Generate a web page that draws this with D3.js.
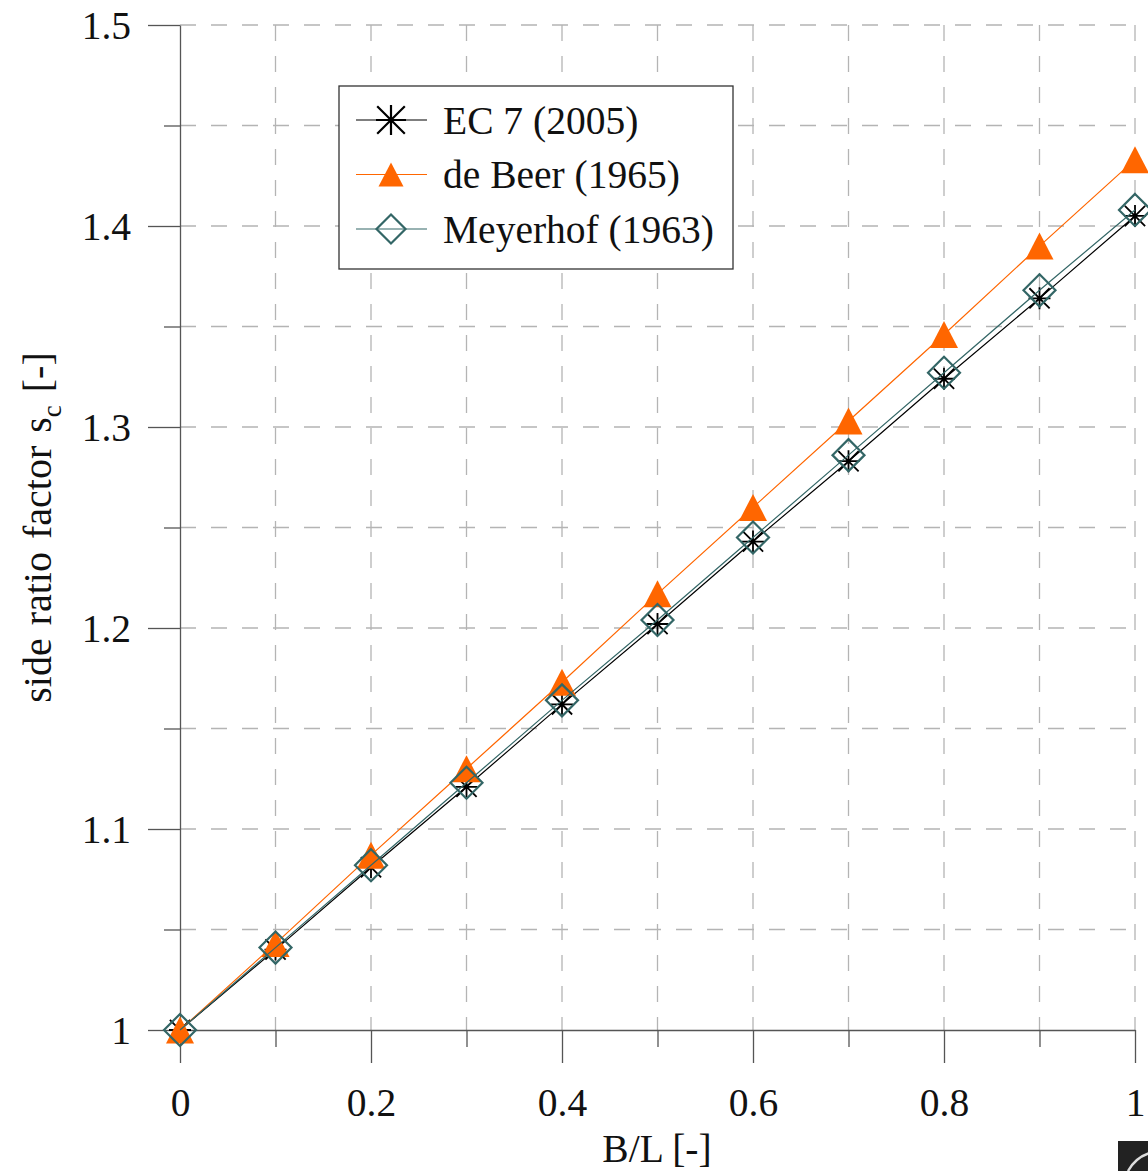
<!DOCTYPE html>
<html>
<head>
<meta charset="utf-8">
<script src="https://cdn.jsdelivr.net/npm/d3@7"></script>
<style>
  html, body { margin: 0; padding: 0; background: #fff; }
  svg { display: block; }
</style>
</head>
<body>
<div id="chart"></div>
<script>
// data
const ratios = [0, 0.1, 0.2, 0.3, 0.4, 0.5, 0.6, 0.7, 0.8, 0.9, 1.0];
const ec7 = [1.000, 1.040, 1.081, 1.121, 1.162, 1.202, 1.243, 1.283, 1.324, 1.364, 1.405];
const deBeer = [1.000, 1.043, 1.087, 1.130, 1.173, 1.217, 1.260, 1.303, 1.346, 1.390, 1.433];
const meyerhof = [1.000, 1.041, 1.082, 1.123, 1.164, 1.204, 1.245, 1.286, 1.327, 1.368, 1.408];

const seriesNames = ['EC 7 (2005)', 'de Beer (1965)', 'Meyerhof (1963)'];

const xMajorTicks = [0, 0.2, 0.4, 0.6, 0.8, 1];
const xMinorTicks = [0.1, 0.3, 0.5, 0.7, 0.9];
const yMajorTicks = [1, 1.1, 1.2, 1.3, 1.4, 1.5];
const yMinorTicks = [1.05, 1.15, 1.25, 1.35, 1.45];
const xGrid = [0.1, 0.2, 0.3, 0.4, 0.5, 0.6, 0.7, 0.8, 0.9, 1.0];
const yGrid = [1.05, 1.1, 1.15, 1.2, 1.25, 1.3, 1.35, 1.4, 1.45, 1.5];

const width = 1148, height = 1171;
const fontSize = 39.5;
const serif = "'Liberation Serif', 'Times New Roman', serif";

const svg = d3.select('#chart').append('svg')
    .attr('width', width)
    .attr('height', height);

const x = d3.scaleLinear().domain([0, 1]).range([180, 1135]);
const y = d3.scaleLinear().domain([1, 1.5]).range([1030, 25]);

// grid
const grid = svg.append('g')
    .attr('stroke', '#b4b4b4')
    .attr('stroke-width', 1.3)
    .attr('stroke-dasharray', '16,15');

grid.selectAll('line.gx').data(xGrid).enter().append('line')
    .attr('x1', d => x(d)).attr('x2', d => x(d))
    .attr('y1', y(1.5)).attr('y2', y(1));

grid.selectAll('line.gy').data(yGrid).enter().append('line')
    .attr('x1', x(0)).attr('x2', x(1))
    .attr('y1', d => y(d)).attr('y2', d => y(d));

// axes
function styleAxis(g) {
    g.selectAll('.domain').attr('stroke', '#555').attr('stroke-width', 1.3);
    g.selectAll('.tick line').attr('stroke', '#555').attr('stroke-width', 1.3);
    g.selectAll('text')
        .style('font-family', serif)
        .style('font-size', fontSize + 'px')
        .attr('fill', '#111');
}

const xAxisG = svg.append('g')
    .attr('transform', `translate(0,${y(1)})`)
    .call(d3.axisBottom(x).tickValues(xMajorTicks).tickSize(33).tickSizeOuter(0)
        .tickFormat(d => d === 0 || d === 1 ? d3.format('d')(d) : d3.format('.1f')(d)));
xAxisG.call(styleAxis);
xAxisG.selectAll('text').attr('y', 86).attr('dy', 0);

const xMinorG = svg.append('g')
    .attr('transform', `translate(0,${y(1)})`)
    .call(d3.axisBottom(x).tickValues(xMinorTicks).tickSize(17).tickFormat(''));
xMinorG.select('.domain').remove();
xMinorG.call(styleAxis);

const yAxisG = svg.append('g')
    .attr('transform', `translate(${x(0)},0)`)
    .call(d3.axisLeft(y).tickValues(yMajorTicks).tickSize(32).tickSizeOuter(0)
        .tickFormat(d => d === 1 ? '1' : d3.format('.1f')(d)));
yAxisG.call(styleAxis);
yAxisG.selectAll('text').attr('x', -49).attr('dy', '0.33em');

const yMinorG = svg.append('g')
    .attr('transform', `translate(${x(0)},0)`)
    .call(d3.axisLeft(y).tickValues(yMinorTicks).tickSize(16).tickFormat(''));
yMinorG.select('.domain').remove();
yMinorG.call(styleAxis);

// axis titles
svg.append('text')
    .attr('x', 657).attr('y', 1162)
    .attr('text-anchor', 'middle')
    .style('font-family', serif)
    .style('font-size', fontSize + 'px')
    .attr('fill', '#111')
    .text('B/L [-]');

const yTitle = svg.append('text')
    .attr('transform', `translate(51,${(y(1) + y(1.5)) / 2}) rotate(-90)`)
    .attr('text-anchor', 'middle')
    .style('font-family', serif)
    .style('font-size', '40px')
    .style('word-spacing', '3px')
    .attr('fill', '#111');
yTitle.append('tspan').text('side ratio factor s');
yTitle.append('tspan').style('font-size', '27px').attr('dy', 10).text('c');
yTitle.append('tspan').attr('dy', -10).text(' [-]');

// markers
function starPath(r) {
    const d = r * 0.92;
    return `M0,${-r}L0,${r}M${-r},0L${r},0M${-d},${-d}L${d},${d}M${-d},${d}L${d},${-d}`;
}
function trianglePath(w, h) {
    return `M0,${-h / 2}L${w / 2},${h / 2}L${-w / 2},${h / 2}Z`;
}
function diamondPath(r) {
    return `M0,${-r}L${r},0L0,${r}L${-r},0Z`;
}

const series = [
    { name: seriesNames[0], values: ec7, color: '#000000', marker: 'star' },
    { name: seriesNames[1], values: deBeer, color: '#ff6600', marker: 'triangle' },
    { name: seriesNames[2], values: meyerhof, color: '#336666', marker: 'diamond' }
];

function drawMarker(g, s, big) {
    if (s.marker === 'star') {
        g.append('path').attr('d', starPath(big ? 15 : 11))
            .attr('stroke', s.color).attr('stroke-width', big ? 2.2 : 1.8).attr('fill', 'none');
    } else if (s.marker === 'triangle') {
        g.append('path').attr('d', big ? trianglePath(25, 24) : trianglePath(28, 27))
            .attr('fill', s.color).attr('stroke', 'none');
    } else {
        g.append('path').attr('d', diamondPath(big ? 14.5 : 16))
            .attr('fill', 'none').attr('stroke', s.color).attr('stroke-width', 2.2);
    }
}

const line = d3.line()
    .x((d, i) => x(ratios[i]))
    .y(d => y(d));

series.forEach(s => {
    const g = svg.append('g');
    g.append('path')
        .datum(s.values)
        .attr('d', line)
        .attr('fill', 'none')
        .attr('stroke', s.color)
        .attr('stroke-width', 1.2);
    s.values.forEach((v, i) => {
        const m = g.append('g').attr('transform', `translate(${x(ratios[i])},${y(v)})`);
        drawMarker(m, s, false);
    });
});

// legend
const legend = svg.append('g').attr('transform', 'translate(339,86)');
legend.append('rect')
    .attr('width', 394).attr('height', 183)
    .attr('fill', '#fff').attr('stroke', '#333').attr('stroke-width', 1.3);

series.forEach((s, i) => {
    const row = legend.append('g').attr('transform', `translate(0,${34 + i * 54.5})`);
    row.append('line')
        .attr('x1', 17).attr('x2', 88)
        .attr('stroke', s.color).attr('stroke-width', 1.2);
    const m = row.append('g').attr('transform', 'translate(52,0)');
    drawMarker(m, s, true);
    row.append('text')
        .attr('x', 104).attr('dy', '0.35em')
        .style('font-family', serif)
        .style('font-size', fontSize + 'px')
        .attr('fill', '#111')
        .text(s.name);
});

// small corner badge seen in the picture
const badge = svg.append('g').attr('transform', 'translate(1118,1141)');
badge.append('rect').attr('width', 30).attr('height', 30).attr('fill', '#222');
badge.append('path').attr('d', 'M10,30 Q18,16 32,12').attr('fill', 'none')
    .attr('stroke', '#ddd').attr('stroke-width', 2.5);
</script>
</body>
</html>
